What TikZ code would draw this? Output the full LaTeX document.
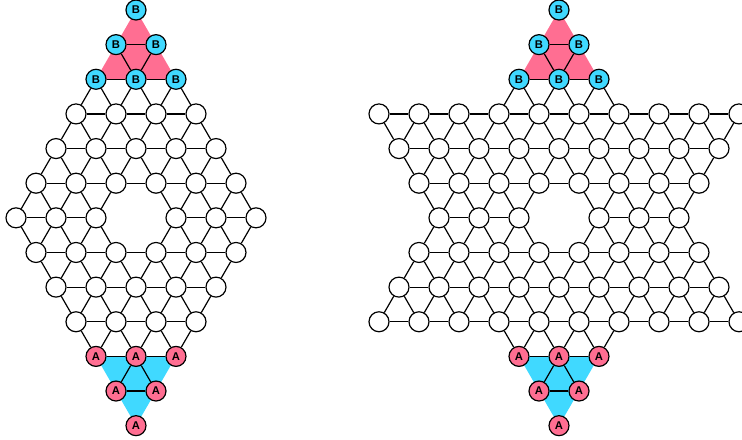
\documentclass[tikz,border=0pt]{standalone}
\usepackage{fontspec}
\setsansfont{Liberation Sans}
\usepackage{tikz}
\usetikzlibrary{backgrounds}
\definecolor{homepink}{HTML}{FF6E92}
\definecolor{homecyan}{HTML}{40D9FF}

% draw a link only when both holes exist
\makeatletter
\newcommand\joinif[2]{%
  \pgfutil@ifundefined{pgf@sh@ns@#1}{}{%
    \pgfutil@ifundefined{pgf@sh@ns@#2}{}{\draw[link] (#1) -- (#2);}}}
\makeatother

\begin{document}
\begin{tikzpicture}[x=1cm, y=1cm,
    spot/.style={circle, draw=black, fill=white, line width=0.85pt, minimum size=0.5cm, inner sep=0pt, font=\sffamily\bfseries\fontsize{8}{9}\selectfont},
    bnode/.style={spot, fill=homecyan},
    anode/.style={spot, fill=homepink},
    link/.style={black, line width=0.85pt}]
    \useasboundingbox (0,0) rectangle (18.55,-11);

    % left board (rhombus)
    \foreach \r in {0,1,2}{
        \foreach \k in {0,...,\r}{
            \pgfmathtruncatemacro\pos{6-\r+2*\k}
            \node[bnode] (l\pos-\r) at ({0.4+0.5*\pos},{-0.25-0.866*\r}) {B};
        }
    }
    \foreach \r in {3,...,9}{
        \pgfmathtruncatemacro\h{min(\r,12-\r)}
        \foreach \k in {0,...,\h}{
            \pgfmathtruncatemacro\pos{6-\h+2*\k}
            \pgfmathtruncatemacro\hole{and(\r==6,\pos==6)}
            \ifnum\hole=0
                \node[spot] (l\pos-\r) at ({0.4+0.5*\pos},{-0.25-0.866*\r}) {};
            \fi
        }
    }
    \foreach \r in {10,11,12}{
        \pgfmathtruncatemacro\h{12-\r}
        \foreach \k in {0,...,\h}{
            \pgfmathtruncatemacro\pos{6-\h+2*\k}
            \node[anode] (l\pos-\r) at ({0.4+0.5*\pos},{-0.25-0.866*\r}) {A};
        }
    }

    % right board (star)
    \foreach \r in {0,1,2}{
        \foreach \k in {0,...,\r}{
            \pgfmathtruncatemacro\pos{9-\r+2*\k}
            \node[bnode] (r\pos-\r) at ({9.475+0.5*\pos},{-0.25-0.866*\r}) {B};
        }
    }
    \foreach \r in {3,...,9}{
        \pgfmathtruncatemacro\h{max(\r,12-\r)}
        \foreach \k in {0,...,\h}{
            \pgfmathtruncatemacro\pos{9-\h+2*\k}
            \pgfmathtruncatemacro\hole{and(\r==6,\pos==9)}
            \ifnum\hole=0
                \node[spot] (r\pos-\r) at ({9.475+0.5*\pos},{-0.25-0.866*\r}) {};
            \fi
        }
    }
    \foreach \r in {10,11,12}{
        \pgfmathtruncatemacro\h{12-\r}
        \foreach \k in {0,...,\h}{
            \pgfmathtruncatemacro\pos{9-\h+2*\k}
            \node[anode] (r\pos-\r) at ({9.475+0.5*\pos},{-0.25-0.866*\r}) {A};
        }
    }

    % links along rows
    \foreach \r in {0,...,12}{
        \foreach \pos in {0,...,18}{
            \pgfmathtruncatemacro\nxt{\pos+2}
            \joinif{l\pos-\r}{l\nxt-\r}
            \joinif{r\pos-\r}{r\nxt-\r}
        }
    }
    % slanted links
    \foreach \r in {2,...,9}{
        \pgfmathtruncatemacro\dn{\r+1}
        \foreach \pos in {0,...,18}{
            \pgfmathtruncatemacro\dl{\pos-1}
            \pgfmathtruncatemacro\dr{\pos+1}
            \joinif{l\pos-\r}{l\dl-\dn}
            \joinif{l\pos-\r}{l\dr-\dn}
            \joinif{r\pos-\r}{r\dl-\dn}
            \joinif{r\pos-\r}{r\dr-\dn}
        }
    }
    % inside the home corners
    \draw[link] (l5-1) -- (l6-2);
    \draw[link] (l7-1) -- (l6-2);
    \draw[link] (l6-10) -- (l5-11);
    \draw[link] (l6-10) -- (l7-11);
    \draw[link] (r8-1) -- (r9-2);
    \draw[link] (r10-1) -- (r9-2);
    \draw[link] (r9-10) -- (r8-11);
    \draw[link] (r9-10) -- (r10-11);

    \begin{pgfonlayer}{background}
        \fill[homepink] (l6-0.center) -- (l4-2.center) -- (l8-2.center) -- cycle;
        \fill[homecyan] (l4-10.center) -- (l8-10.center) -- (l6-12.center) -- cycle;
        \fill[homepink] (r9-0.center) -- (r7-2.center) -- (r11-2.center) -- cycle;
        \fill[homecyan] (r7-10.center) -- (r11-10.center) -- (r9-12.center) -- cycle;
    \end{pgfonlayer}
\end{tikzpicture}
\end{document}
